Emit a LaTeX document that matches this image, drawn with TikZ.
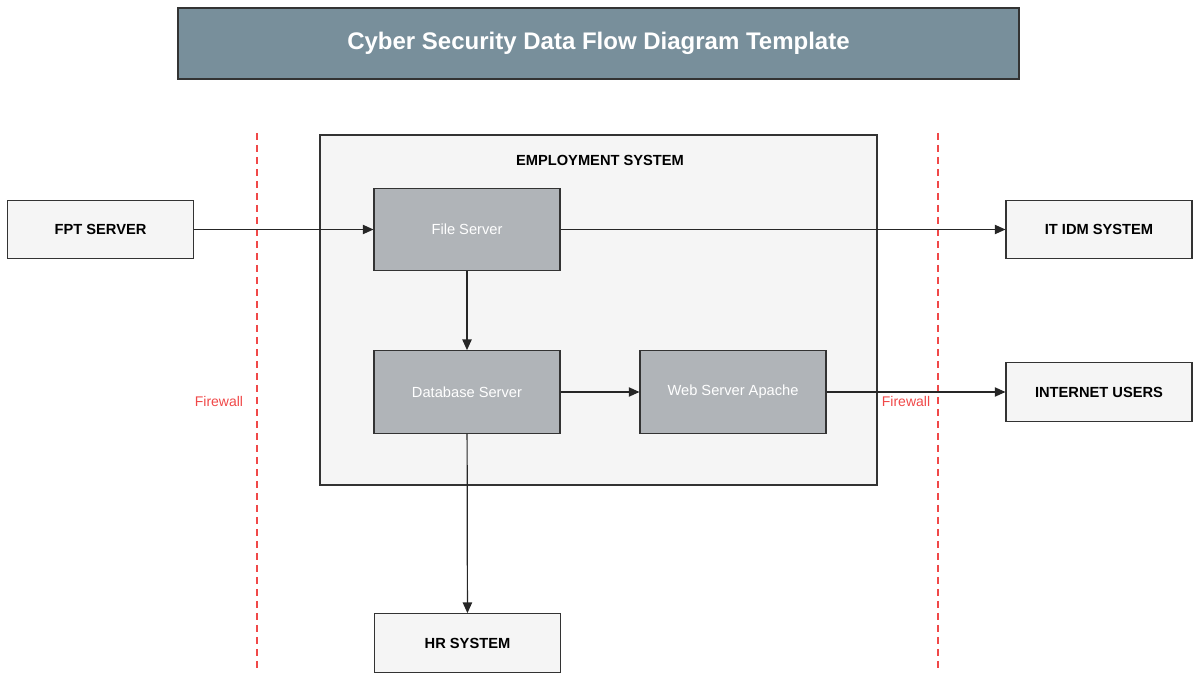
\documentclass[tikz,border=0pt]{standalone}
\usepackage{fontspec}
\setmainfont{Liberation Sans}
\usetikzlibrary{arrows.meta}
\definecolor{titlebg}{HTML}{788F9B}
\definecolor{sysbg}{HTML}{F5F5F5}
\definecolor{srv}{HTML}{B0B4B8}
\definecolor{fw}{HTML}{F04848}
\begin{document}
\begin{tikzpicture}[x=0.75pt,y=-0.75pt,
  ext/.style={draw=black!80,fill=sysbg,line width=0.8pt,font=\bfseries\fontsize{11}{13}\selectfont,minimum width=139.5pt,minimum height=44pt,inner sep=0pt},
  server/.style={draw=black!80,fill=srv,line width=0.8pt,text=white,font=\fontsize{11}{13}\selectfont,minimum width=139.5pt,minimum height=62pt,inner sep=0pt},
  flow/.style={draw=black!85,line width=0.9pt,-{Triangle[length=8pt,width=7pt]}},
  firewall/.style={draw=fw,dashed,line width=0.9pt,dash pattern=on 5pt off 4pt},
  fwtext/.style={text=fw,font=\fontsize{10.5}{12}\selectfont}]
\useasboundingbox (0,0) rectangle (1200,680);
\node[draw=black!80,fill=titlebg,line width=0.8pt,minimum width=630.75pt,minimum height=53.25pt,text=white,font=\bfseries\fontsize{18}{21}\selectfont] (title) at (598.5,43.5) {Cyber Security Data Flow Diagram Template};
\node[draw=black!80,fill=sysbg,line width=0.8pt,minimum width=417.75pt,minimum height=262.5pt] (emp) at (598.5,310) {};
\node[font=\bfseries\fontsize{11}{13}\selectfont] (emplbl) at (600,160) {EMPLOYMENT SYSTEM};
\draw[firewall] (257,133) -- (257,672);
\draw[firewall] (938,133) -- (938,672);
\node[fwtext] (fw1) at (219,401) {Firewall};
\node[fwtext] (fw2) at (906,401) {Firewall};
\node[ext] (fpt) at (100.5,229.5) {FPT SERVER};
\node[server] (file) at (467,229.5) {File Server};
\node[ext] (itidm) at (1099,229.5) {IT IDM SYSTEM};
\node[server] (db) at (467,392) {Database Server};
\node[server] (web) at (733,392) {Web Server Apache};
\node[ext] (inet) at (1099,392) {INTERNET USERS};
\node[ext] (hr) at (467.5,643) {HR SYSTEM};
\draw[flow] (fpt) -- (file);
\draw[flow] (file) -- (itidm);
\draw[flow] (file) -- (db);
\draw[flow] (db) -- (web);
\draw[flow] (web) -- (inet);
\draw[flow] (db) -- (hr);
\end{tikzpicture}
\end{document}
